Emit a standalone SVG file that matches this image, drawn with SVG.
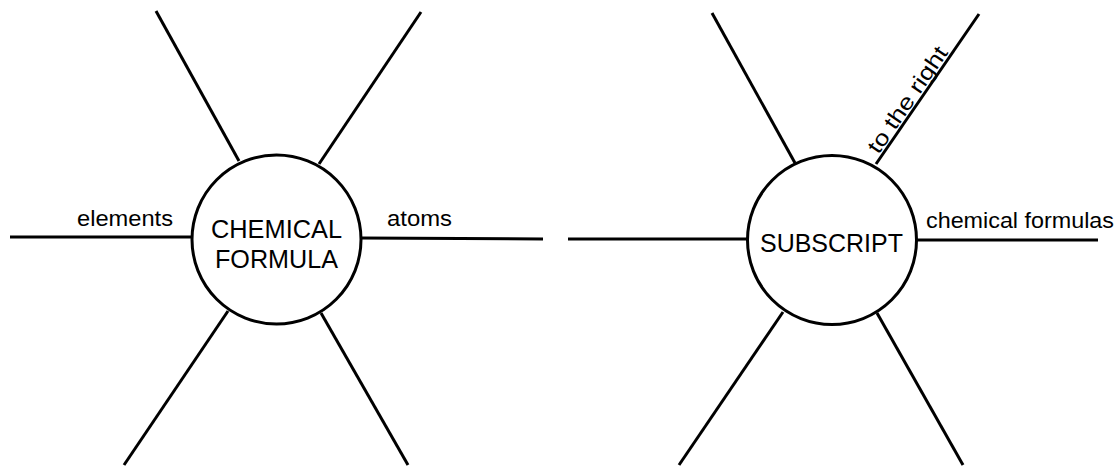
<svg xmlns="http://www.w3.org/2000/svg" width="1116" height="466" viewBox="0 0 1116 466">
  <style>
    .bg { fill: #ffffff; }
    .ln { stroke: #000000; stroke-width: 3; fill: none; stroke-linecap: butt; }
    .node { fill: #ffffff; stroke: #000000; stroke-width: 3; }
    .title { font-family: "Liberation Sans", Arial, sans-serif; font-size: 25px; fill: #000000; text-anchor: middle; }
    .lbl { font-family: "Liberation Sans", Arial, sans-serif; font-size: 22px; fill: #000000; }
  </style>
  <rect class="bg" x="0" y="0" width="1116" height="466"/>
  <g id="connectors">
    <line class="ln" x1="10" y1="237" x2="192" y2="237"/>
    <line class="ln" x1="361" y1="238" x2="543" y2="239"/>
    <line class="ln" x1="156" y1="11" x2="239" y2="161"/>
    <line class="ln" x1="421" y1="12" x2="319" y2="164"/>
    <line class="ln" x1="228" y1="311" x2="124" y2="465"/>
    <line class="ln" x1="321" y1="313" x2="408" y2="465"/>
    <line class="ln" x1="568" y1="239" x2="748" y2="239"/>
    <line class="ln" x1="916" y1="240" x2="1098" y2="240"/>
    <line class="ln" x1="712" y1="13" x2="795" y2="163"/>
    <line class="ln" x1="979" y1="14" x2="876" y2="164"/>
    <line class="ln" x1="783" y1="312" x2="679" y2="465"/>
    <line class="ln" x1="877" y1="313" x2="963" y2="465"/>
  </g>
  <g id="labels">
    <text class="lbl" x="77" y="226" textLength="96" lengthAdjust="spacingAndGlyphs">elements</text>
    <text class="lbl" x="387" y="226" textLength="65" lengthAdjust="spacingAndGlyphs">atoms</text>
    <text class="lbl" x="926" y="228" textLength="188" lengthAdjust="spacingAndGlyphs">chemical formulas</text>
    <text class="lbl" transform="translate(878.5,155) rotate(-55.5)" textLength="124" lengthAdjust="spacingAndGlyphs">to the right</text>
  </g>
  <g id="node-chemical-formula">
    <circle class="node" cx="276.5" cy="239.5" r="84.5"/>
    <text class="title" x="276.5" y="238" textLength="131" lengthAdjust="spacingAndGlyphs">CHEMICAL</text>
    <text class="title" x="276.5" y="268" textLength="123" lengthAdjust="spacingAndGlyphs">FORMULA</text>
  </g>
  <g id="node-subscript">
    <circle class="node" cx="832" cy="240" r="84.5"/>
    <text class="title" x="831.5" y="252" textLength="143" lengthAdjust="spacingAndGlyphs">SUBSCRIPT</text>
  </g>
</svg>
